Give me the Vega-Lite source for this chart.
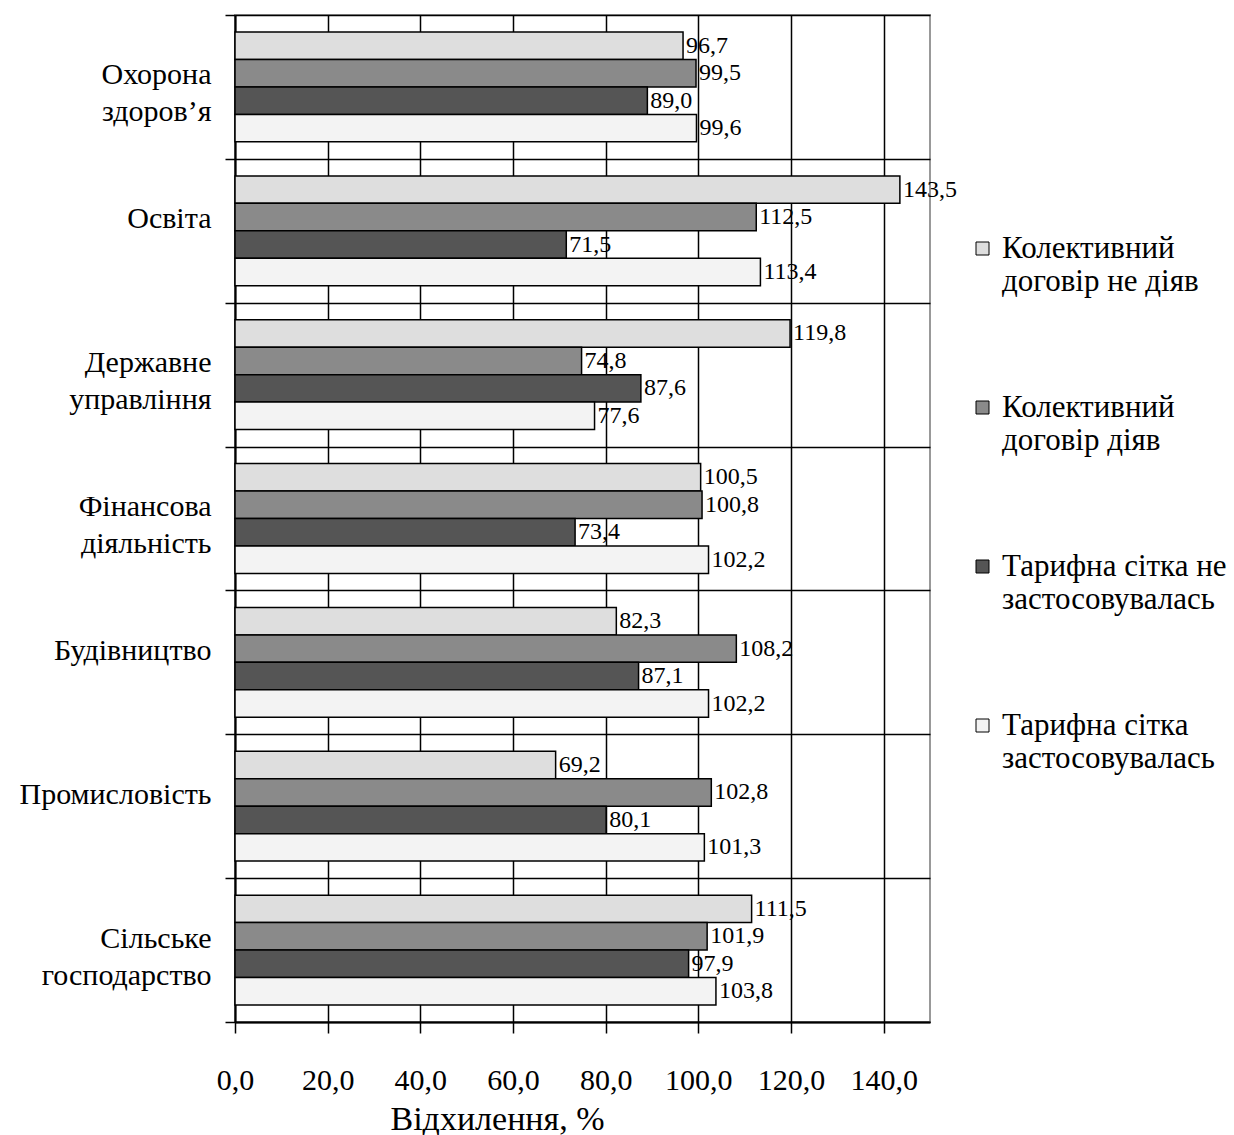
{
  "$schema": "https://vega.github.io/schema/vega-lite/v6.json",
  "width": 695,
  "height": 1007,
  "autosize": {"type": "none"},
  "padding": {"left": 235, "top": 15, "right": 304, "bottom": 113},
  "background": "white",
  "config": {
    "locale": {"number": {"decimal": ",", "thousands": " ", "grouping": [3], "currency": ["", ""]}},
    "font": "Liberation Serif",
    "view": {"stroke": "#999999", "strokeWidth": 2}
  },
  "data": {
    "values": [
      {"cat": "Охорона здоров’я", "series": "Колективний договір не діяв", "value": 96.7},
      {"cat": "Охорона здоров’я", "series": "Колективний договір діяв", "value": 99.5},
      {"cat": "Охорона здоров’я", "series": "Тарифна сітка  не застосовувалась", "value": 89.0},
      {"cat": "Охорона здоров’я", "series": "Тарифна сітка застосовувалась", "value": 99.6},
      {"cat": "Освіта", "series": "Колективний договір не діяв", "value": 143.5},
      {"cat": "Освіта", "series": "Колективний договір діяв", "value": 112.5},
      {"cat": "Освіта", "series": "Тарифна сітка  не застосовувалась", "value": 71.5},
      {"cat": "Освіта", "series": "Тарифна сітка застосовувалась", "value": 113.4},
      {"cat": "Державне управління", "series": "Колективний договір не діяв", "value": 119.8},
      {"cat": "Державне управління", "series": "Колективний договір діяв", "value": 74.8},
      {"cat": "Державне управління", "series": "Тарифна сітка  не застосовувалась", "value": 87.6},
      {"cat": "Державне управління", "series": "Тарифна сітка застосовувалась", "value": 77.6},
      {"cat": "Фінансова діяльність", "series": "Колективний договір не діяв", "value": 100.5},
      {"cat": "Фінансова діяльність", "series": "Колективний договір діяв", "value": 100.8},
      {"cat": "Фінансова діяльність", "series": "Тарифна сітка  не застосовувалась", "value": 73.4},
      {"cat": "Фінансова діяльність", "series": "Тарифна сітка застосовувалась", "value": 102.2},
      {"cat": "Будівництво", "series": "Колективний договір не діяв", "value": 82.3},
      {"cat": "Будівництво", "series": "Колективний договір діяв", "value": 108.2},
      {"cat": "Будівництво", "series": "Тарифна сітка  не застосовувалась", "value": 87.1},
      {"cat": "Будівництво", "series": "Тарифна сітка застосовувалась", "value": 102.2},
      {"cat": "Промисловість", "series": "Колективний договір не діяв", "value": 69.2},
      {"cat": "Промисловість", "series": "Колективний договір діяв", "value": 102.8},
      {"cat": "Промисловість", "series": "Тарифна сітка  не застосовувалась", "value": 80.1},
      {"cat": "Промисловість", "series": "Тарифна сітка застосовувалась", "value": 101.3},
      {"cat": "Сільське господарство", "series": "Колективний договір не діяв", "value": 111.5},
      {"cat": "Сільське господарство", "series": "Колективний договір діяв", "value": 101.9},
      {"cat": "Сільське господарство", "series": "Тарифна сітка  не застосовувалась", "value": 97.9},
      {"cat": "Сільське господарство", "series": "Тарифна сітка застосовувалась", "value": 103.8}
    ]
  },
  "encoding": {
    "y": {
      "field": "cat",
      "type": "nominal",
      "sort": ["Охорона здоров’я", "Освіта", "Державне управління", "Фінансова діяльність", "Будівництво", "Промисловість", "Сільське господарство"],
      "scale": {"paddingInner": 0, "paddingOuter": 0},
      "axis": {
        "title": null,
        "tickBand": "extent",
        "grid": true,
        "gridColor": "#000000",
        "gridOpacity": 1,
        "gridWidth": 1.5,
        "domainColor": "#000000",
        "domainWidth": 2,
        "tickColor": "#000000",
        "tickWidth": 1.5,
        "tickSize": 10,
        "labelFont": "Liberation Serif",
        "labelFontSize": 30,
        "labelColor": "#000000",
        "labelPadding": 14,
        "labelLineHeight": 37,
        "labelOffset": -12,
        "labelExpr": "split(datum.label, ' ')",
        "labelLimit": 250
      }
    },
    "yOffset": {
      "field": "series",
      "type": "nominal",
      "sort": ["Колективний договір не діяв", "Колективний договір діяв", "Тарифна сітка  не застосовувалась", "Тарифна сітка застосовувалась"],
      "scale": {"paddingInner": 0, "paddingOuter": 0.62}
    },
    "x": {
      "field": "value",
      "type": "quantitative",
      "scale": {"domain": [0, 150], "nice": false},
      "axis": {
        "title": "Відхилення, %",
        "values": [0, 20, 40, 60, 80, 100, 120, 140],
        "format": ".1f",
        "grid": true,
        "gridColor": "#000000",
        "gridOpacity": 1,
        "gridWidth": 1.5,
        "domainColor": "#000000",
        "domainWidth": 2,
        "tickColor": "#000000",
        "tickWidth": 1.5,
        "tickSize": 11,
        "labelFlush": false,
        "labelFont": "Liberation Serif",
        "labelFontSize": 30,
        "labelColor": "#000000",
        "labelPadding": 32,
        "titleFont": "Liberation Serif",
        "titleFontSize": 34,
        "titleFontWeight": "normal",
        "titleColor": "#000000",
        "titleX": 262,
        "titleY": 107,
        "titleAlign": "center",
        "titleBaseline": "alphabetic"
      }
    }
  },
  "layer": [
    {
      "mark": {"type": "bar", "stroke": "#000000", "strokeWidth": 1.5},
      "encoding": {
        "fill": {
          "field": "series",
          "type": "nominal",
          "sort": ["Колективний договір не діяв", "Колективний договір діяв", "Тарифна сітка  не застосовувалась", "Тарифна сітка застосовувалась"],
          "scale": {
            "domain": ["Колективний договір не діяв", "Колективний договір діяв", "Тарифна сітка  не застосовувалась", "Тарифна сітка застосовувалась"],
            "range": ["#dedede", "#8a8a8a", "#555555", "#f3f3f3"]
          },
          "legend": {
            "title": null,
            "orient": "none",
            "legendX": 732,
            "legendY": 218,
            "symbolType": "square",
            "symbolSize": 169,
            "symbolStrokeColor": "#000000",
            "symbolStrokeWidth": 1,
            "labelFont": "Liberation Serif",
            "labelFontSize": 31,
            "labelColor": "#000000",
            "labelLimit": 300,
            "labelOffset": 4,
            "labelBaseline": "middle",
            "rowPadding": 94,
            "labelExpr": "indexof(datum.label, 'Колективний') == 0 ? ['Колективний', substring(datum.label, 12)] : [substring(datum.label, 0, lastindexof(datum.label, ' ')), substring(datum.label, lastindexof(datum.label, ' ') + 1)]"
          }
        }
      }
    },
    {
      "mark": {"type": "text", "align": "left", "baseline": "middle", "dx": 3, "fontSize": 24, "font": "Liberation Serif", "color": "#000000"},
      "encoding": {
        "text": {"field": "value", "type": "quantitative", "format": ".1f"}
      }
    }
  ]
}
